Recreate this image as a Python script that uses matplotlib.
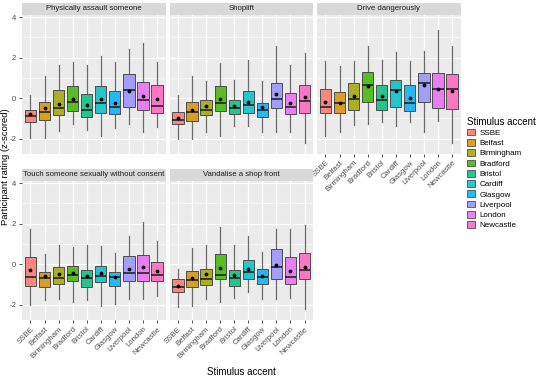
import numpy as np
import matplotlib.pyplot as plt
from matplotlib.patches import Patch
from matplotlib.colors import to_rgba

plt.rcParams['font.family'] = ['Liberation Sans', 'DejaVu Sans']

accents = ['SSBE', 'Belfast', 'Birmingham', 'Bradford', 'Bristol',
           'Cardiff', 'Glasgow', 'Liverpool', 'London', 'Newcastle']
colours = ['#F8766D', '#D89000', '#A3A500', '#39B600', '#00BF7D',
           '#00BFC4', '#00B0F6', '#9590FF', '#E76BF3', '#FF62BC']

facets = ['Physically assault someone', 'Shoplift', 'Drive dangerously',
          'Touch someone sexually without consent', 'Vandalise a shop front']

# values (z-scored ratings)
assault_lo = [-1.99, -1.95, -1.63, -1.30, -1.56, -1.86, -1.46, -1.30, -1.66, -1.43]
assault_q1 = [-1.20, -1.10, -0.84, -0.64, -0.94, -0.72, -0.79, -0.46, -0.61, -0.75]
assault_md = [-0.90, -0.70, -0.51, -0.21, -0.61, -0.26, -0.46, 0.38, -0.11, -0.41]
assault_q3 = [-0.60, -0.21, 0.38, 0.58, 0.18, 0.59, 0.33, 1.17, 0.77, 0.67]
assault_hi = [0.16, 1.07, 1.61, 1.79, 1.64, 2.07, 1.76, 2.40, 2.74, 1.76]
assault_mn = [-0.80, -0.51, -0.28, -0.07, -0.36, -0.07, -0.23, 0.35, 0.08, -0.07]

shoplift_lo = [-2.02, -2.02, -1.69, -1.86, -1.40, -1.36, -1.69, -1.69, -1.66, -2.22]
shoplift_q1 = [-1.30, -1.13, -0.85, -0.66, -0.80, -0.75, -0.94, -0.51, -0.80, -0.75]
shoplift_md = [-1.10, -0.70, -0.61, -0.26, -0.51, -0.36, -0.61, -0.03, -0.43, -0.13]
shoplift_q3 = [-0.70, -0.21, -0.11, 0.59, -0.11, 0.33, -0.25, 0.72, 0.23, 0.67]
shoplift_hi = [0.13, 1.07, 0.82, 1.74, 0.87, 1.87, 0.82, 2.55, 1.64, 2.23]
shoplift_mn = [-1.00, -0.61, -0.41, -0.07, -0.41, -0.21, -0.46, 0.18, -0.25, 0.07]

drive_lo = [-1.86, -1.69, -1.33, -1.30, -1.17, -1.36, -1.20, -1.69, -1.13, -2.22]
drive_q1 = [-0.75, -0.75, -0.61, -0.21, -0.61, -0.46, -0.64, -0.21, -0.49, -0.56]
drive_md = [-0.44, -0.23, -0.07, 0.63, -0.11, 0.38, -0.26, 0.74, 0.44, 0.43]
drive_q3 = [0.43, 0.28, 0.75, 1.27, 0.67, 0.87, 0.67, 1.25, 1.25, 1.18]
drive_hi = [1.84, 1.59, 1.84, 2.55, 1.90, 2.28, 1.84, 2.30, 3.38, 2.55]
drive_mn = [-0.21, -0.23, 0.08, 0.58, 0.10, 0.33, 0.02, 0.63, 0.44, 0.34]

touch_lo = [-1.98, -1.75, -1.71, -1.85, -1.78, -2.04, -1.95, -1.71, -1.71, -1.55]
touch_q1 = [-1.06, -1.10, -0.96, -0.82, -1.12, -0.87, -1.06, -0.81, -0.82, -0.82]
touch_md = [-0.61, -0.69, -0.68, -0.53, -0.68, -0.58, -0.63, -0.43, -0.43, -0.53]
touch_q3 = [0.38, -0.38, -0.15, -0.08, -0.28, -0.08, -0.38, 0.41, 0.45, 0.12]
touch_hi = [1.73, 0.51, 0.96, 0.86, 0.96, 0.91, 0.56, 1.40, 2.10, 1.16]
touch_mn = [-0.28, -0.58, -0.48, -0.43, -0.58, -0.43, -0.63, -0.23, -0.13, -0.33]

vandal_lo = [-2.11, -2.04, -1.71, -1.85, -1.65, -1.35, -1.71, -1.71, -1.68, -2.21]
vandal_q1 = [-1.34, -1.12, -1.04, -0.74, -1.05, -0.74, -0.97, -0.72, -0.96, -0.72]
vandal_md = [-1.12, -0.77, -0.72, -0.53, -0.68, -0.38, -0.63, -0.15, -0.63, -0.28]
vandal_q3 = [-0.72, -0.33, -0.23, 0.51, -0.26, 0.20, -0.25, 0.73, 0.35, 0.56]
vandal_hi = [-0.23, 0.81, 0.96, 1.82, 0.96, 1.40, 0.61, 1.75, 1.75, 1.95]
vandal_mn = [-1.08, -0.67, -0.48, -0.16, -0.53, -0.21, -0.58, -0.02, -0.33, -0.15]

panel_stats = [
    (assault_lo, assault_q1, assault_md, assault_q3, assault_hi, assault_mn),
    (shoplift_lo, shoplift_q1, shoplift_md, shoplift_q3, shoplift_hi, shoplift_mn),
    (drive_lo, drive_q1, drive_md, drive_q3, drive_hi, drive_mn),
    (touch_lo, touch_q1, touch_md, touch_q3, touch_hi, touch_mn),
    (vandal_lo, vandal_q1, vandal_md, vandal_q3, vandal_hi, vandal_mn),
]

W, H = 540, 382
fig = plt.figure(figsize=(W / 100, H / 100), dpi=100)

# panel boxes in pixels: (left, right) and (top, bottom)
col_x = [(22, 165.5), (169.5, 313), (317, 460.5)]
row_y = [(15, 153.6), (181, 320)]
strip_h = 12.5
pos = [(0, 0), (0, 1), (0, 2), (1, 0), (1, 1)]

tick_col = '#4D4D4D'
x = np.arange(1, len(accents) + 1)

for k, (r, c) in enumerate(pos):
    x0, x1 = col_x[c]
    y0, y1 = row_y[r]
    ax = fig.add_axes([x0 / W, 1 - y1 / H, (x1 - x0) / W, (y1 - y0) / H])
    ax.set_facecolor('#EBEBEB')
    for s in ax.spines.values():
        s.set_visible(False)

    lo, q1, md, q3, hi, mn = panel_stats[k]
    stats = [dict(whislo=lo[i], q1=q1[i], med=md[i], q3=q3[i], whishi=hi[i],
                  fliers=[]) for i in range(len(accents))]
    bp = ax.bxp(stats, positions=x, widths=0.8, patch_artist=True,
                showcaps=False, showfliers=False,
                boxprops=dict(edgecolor='#4D4D4D', linewidth=0.7),
                whiskerprops=dict(color='#6B6B6B', linewidth=0.9),
                medianprops=dict(color='#1A1A1A', linewidth=1.1))
    for patch, col in zip(bp['boxes'], colours):
        patch.set_facecolor(to_rgba(col, 0.85))
    for w in bp['whiskers']:
        w.set_zorder(1.5)
    ax.scatter(x, mn, s=3, color='black', zorder=4)

    ax.set_xlim(0.4, 10.6)
    ax.set_ylim(-2.74, 4.1)
    ax.set_yticks([-2, 0, 2, 4])
    ax.set_yticks([-1, 1, 3], minor=True)
    ax.set_xticks(x)
    ax.grid(True, which='major', color='white', linewidth=0.9)
    ax.grid(True, which='minor', axis='y', color='white', linewidth=0.45)
    ax.set_axisbelow(True)
    ax.tick_params(which='major', length=2.5, width=0.6, color='#333333',
                   labelsize=5.6, labelcolor=tick_col, pad=1.5)
    ax.tick_params(which='minor', length=0)

    if c == 0:
        ax.set_yticklabels(['-2', '0', '2', '4'])
    else:
        ax.set_yticklabels([])
        ax.tick_params(axis='y', length=0)
    if r == 1 or c == 2:
        ax.set_xticklabels(accents, rotation=45, ha='right',
                           rotation_mode='anchor')
    else:
        ax.set_xticklabels([])
        ax.tick_params(axis='x', length=0)

    # facet strip
    sax = fig.add_axes([x0 / W, 1 - y0 / H, (x1 - x0) / W, strip_h / H])
    sax.set_facecolor('#D9D9D9')
    sax.set_xticks([])
    sax.set_yticks([])
    for s in sax.spines.values():
        s.set_visible(False)
    sax.text(0.5, 0.5, facets[k], ha='center', va='center', fontsize=5.6,
             color='#1A1A1A', transform=sax.transAxes)

fig.text(241 / W, 1 - 372 / H, 'Stimulus accent', ha='center', va='center',
         fontsize=7)
fig.text(5.5 / W, 1 - 167 / H, 'Participant rating (z-scored)', ha='center',
         va='center', rotation=90, fontsize=6.8)

handles = [Patch(facecolor=to_rgba(col, 0.85), edgecolor='#4D4D4D',
                 linewidth=0.6) for col in colours]
leg = fig.legend(handles, accents, title='Stimulus accent',
                 loc='center left', bbox_to_anchor=(464 / W, 1 - 173 / H),
                 frameon=False, fontsize=5.8, title_fontsize=7,
                 handlelength=1.0, handleheight=0.9, handletextpad=0.5,
                 labelspacing=0.27, borderaxespad=0)
leg._legend_box.align = 'left'

fig.savefig('out.png', dpi=100)
